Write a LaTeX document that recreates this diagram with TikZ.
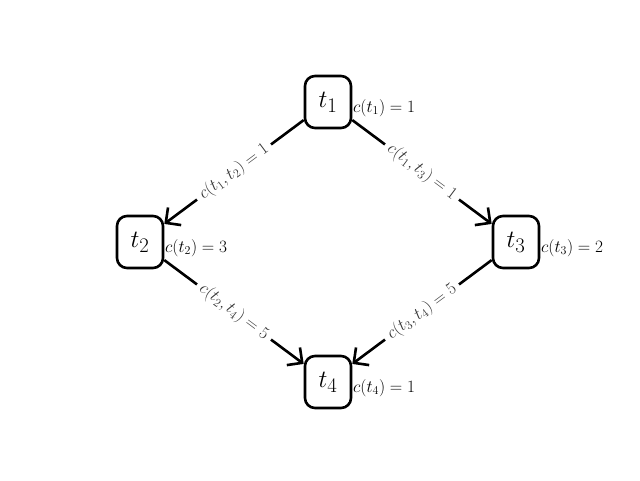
\documentclass[tikz,border=0pt]{standalone}
\usetikzlibrary{arrows.meta}
\begin{document}
\begin{tikzpicture}[x=1pt,y=-1pt,
  task/.style={draw, line width=2.6pt, rounded corners=10pt, minimum width=46pt, minimum height=52pt, inner sep=0pt, font=\fontsize{27.8}{32}\selectfont},
  cost/.style={anchor=west, inner sep=1pt, font=\fontsize{16.7}{19}\selectfont},
  link/.style={line width=2.6pt, -{Straight Barb[length=11pt,width=22pt,line width=2.6pt]}},
  elab/.style={sloped, fill=white, inner xsep=5pt, inner ysep=2pt, font=\fontsize{16.7}{19}\selectfont, text=black!80}]
\useasboundingbox (0,0) rectangle (640,480);
\node[task] (t1) at (328,102) {$t_1$};
\node[task] (t2) at (140,242) {$t_2$};
\node[task] (t3) at (516,242) {$t_3$};
\node[task] (t4) at (328,382) {$t_4$};
\node[cost] (c1) at (352,108) {$c(t_1)=1$};
\node[cost] (c2) at (164,248) {$c(t_2)=3$};
\node[cost] (c3) at (540,248) {$c(t_3)=2$};
\node[cost] (c4) at (352,388) {$c(t_4)=1$};
\draw[link] (t1) -- node[elab] (e12) {$c(t_1,t_2)=1$} (t2);
\draw[link] (t1) -- node[elab] (e13) {$c(t_1,t_3)=1$} (t3);
\draw[link] (t2) -- node[elab] (e24) {$c(t_2,t_4)=5$} (t4);
\draw[link] (t3) -- node[elab] (e34) {$c(t_3,t_4)=5$} (t4);
\end{tikzpicture}
\end{document}
